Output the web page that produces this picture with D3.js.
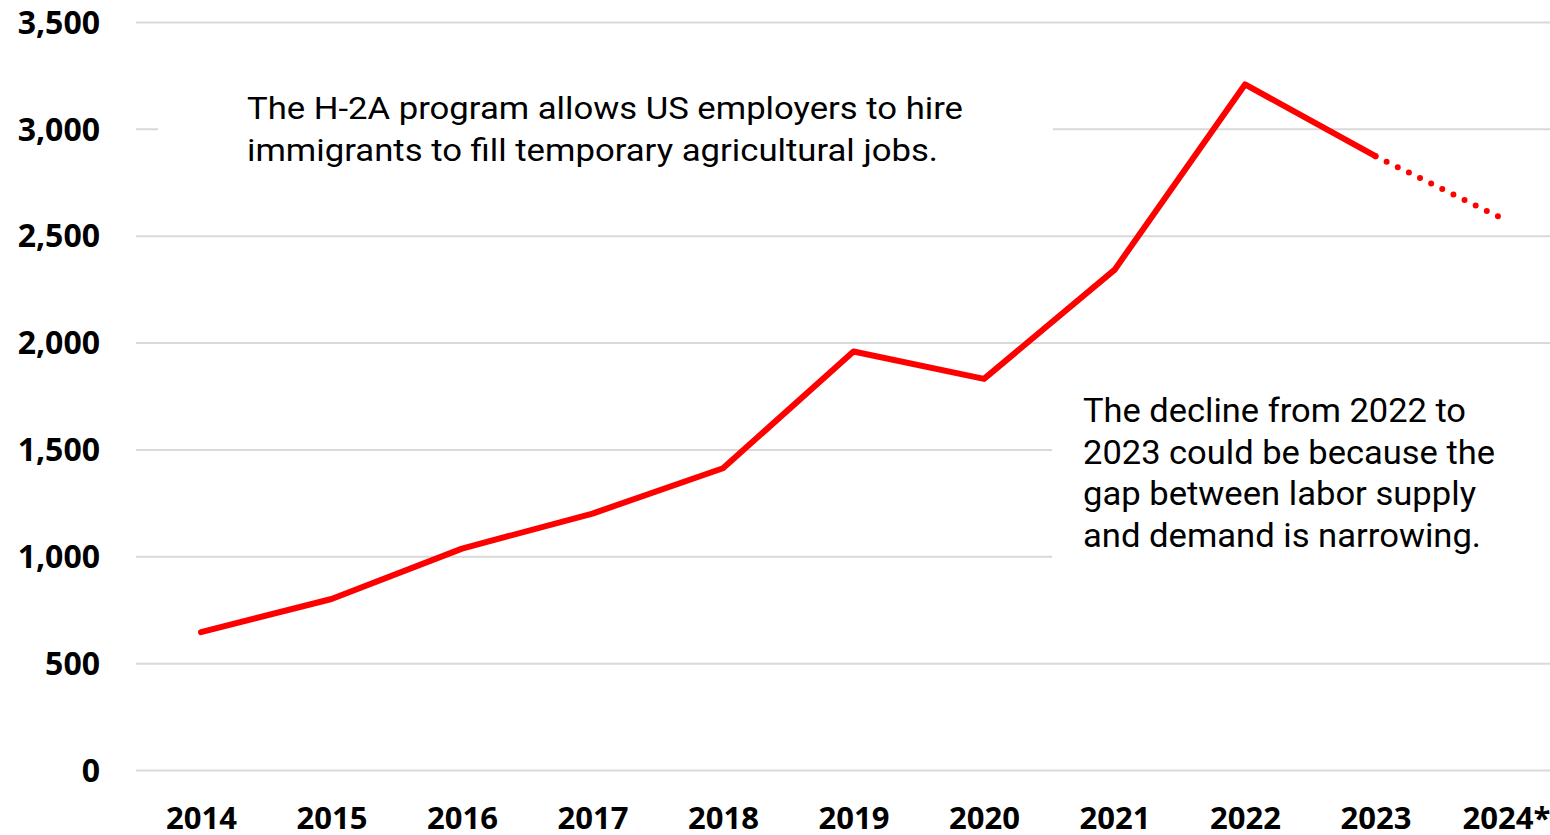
<!DOCTYPE html>
<html><head><meta charset="utf-8">
<script src="https://cdn.jsdelivr.net/npm/d3@7"></script>
<style>
html,body{margin:0;padding:0;background:#fff;}
svg{display:block;}
</style></head>
<body>
<svg id="chart" width="1550" height="835"></svg>
<script>
const years = ["2014","2015","2016","2017","2018","2019","2020","2021","2022","2023","2024*"];
const values = [645, 800, 1036, 1200, 1412, 1958, 1830, 2340, 3208, 2872, 2572];
const yTicks = [0, 500, 1000, 1500, 2000, 2500, 3000, 3500];
const note1 = ["The H-2A program allows US employers to hire", "immigrants to fill temporary agricultural jobs."];
const note2 = ["The decline from 2022 to", "2023 could be because the", "gap between labor supply", "and demand is narrowing."];
const note2Widths = [383, 412, 393, 398];

(function(){
const svg = d3.select("#chart");
const mLeft = 136, mRight = 1550, mTop = 22, mBottom = 770;

const x = d3.scalePoint().domain(years).range([201, 1506]);
const y = d3.scaleLinear().domain([0, 3500]).range([mBottom, mTop]);

// gridlines + y labels
const yAxis = d3.axisLeft(y).tickValues(yTicks).tickFormat(d3.format(",")).tickSize(-(mRight - mLeft)).tickPadding(36);
const gy = svg.append("g").attr("transform", `translate(${mLeft},0)`).call(yAxis);
gy.select(".domain").remove();
gy.selectAll(".tick line").attr("stroke", "#d9d9d9").attr("stroke-width", 2);
gy.selectAll(".tick text").attr("fill", "#000").attr("font-family", "'Open Sans', sans-serif")
  .attr("font-weight", 700).attr("font-size", 32).attr("dy", "0.35em");

// x labels
const xAxis = d3.axisBottom(x).tickSize(0).tickPadding(0);
const gx = svg.append("g").attr("transform", `translate(0,${mBottom})`).call(xAxis);
gx.select(".domain").remove();
gx.selectAll(".tick text").attr("fill", "#000").attr("font-family", "'Open Sans', sans-serif")
  .attr("font-weight", 700).attr("font-size", 31).attr("dy", 0).attr("y", 59).attr("x", 0);

// annotation backgrounds (hide gridlines)
svg.append("rect").attr("x", 158).attr("y", 88).attr("width", 895).attr("height", 90).attr("fill", "#fff");
svg.append("rect").attr("x", 1052).attr("y", 385).attr("width", 498).attr("height", 185).attr("fill", "#fff");

// line
const pts = years.map((yr, i) => [x(yr), y(values[i])]);
const line = d3.line();
svg.append("path").attr("d", line(pts.slice(0, 10))).attr("fill", "none")
  .attr("stroke", "#ff0000").attr("stroke-width", 6).attr("stroke-linejoin", "round").attr("stroke-linecap", "round");
svg.append("path").attr("d", line(pts.slice(9, 11))).attr("fill", "none")
  .attr("stroke", "#ff0000").attr("stroke-width", 6).attr("stroke-linecap", "round")
  .attr("stroke-dasharray", "0 12.4").attr("stroke-dashoffset", -12.4);

// annotations
const t1 = svg.append("text").attr("font-family", "Roboto, sans-serif").attr("font-size", 32).attr("fill", "#000");
note1.forEach((s, i) => {
  t1.append("tspan").attr("x", 247).attr("y", 119 + i * 42).text(s)
    .attr("textLength", i === 0 ? 716 : 691).attr("lengthAdjust", "spacingAndGlyphs");
});
const t2 = svg.append("text").attr("font-family", "Roboto, sans-serif").attr("font-size", 33).attr("fill", "#000");
note2.forEach((s, i) => {
  t2.append("tspan").attr("x", 1083).attr("y", 422 + i * 41.5).text(s)
    .attr("textLength", note2Widths[i]).attr("lengthAdjust", "spacingAndGlyphs");
});
})();
</script>
</body></html>
